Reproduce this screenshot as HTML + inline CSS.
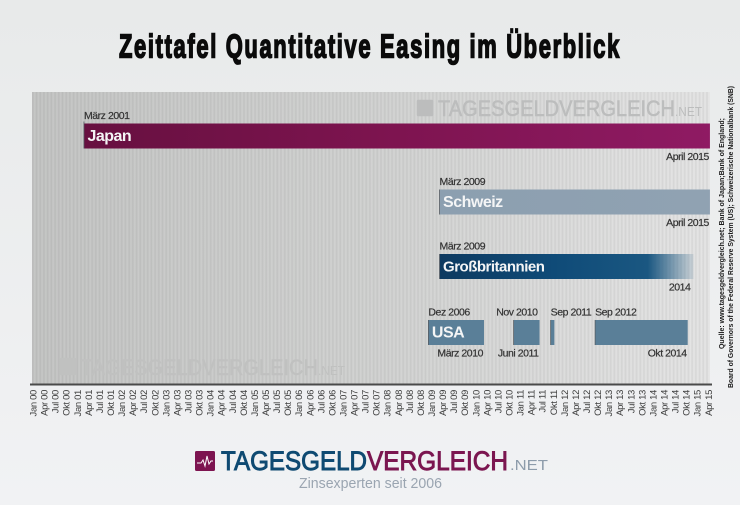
<!DOCTYPE html>
<html lang="de">
<head>
<meta charset="utf-8">
<title>Zeittafel Quantitative Easing im Überblick</title>
<style>
html,body{margin:0;padding:0;background:#eceeee}
svg{display:block;font-family:"Liberation Sans",sans-serif}
</style>
</head>
<body>
<svg id="chart" xmlns="http://www.w3.org/2000/svg" width="740" height="505" viewBox="0 0 740 505">
<defs>
<linearGradient id="pageBg" x1="0" y1="0" x2="0" y2="1"><stop offset="0" stop-color="#e8eaea"/><stop offset="1" stop-color="#f1f2f4"/></linearGradient>
<linearGradient id="plotBg" x1="0" y1="0" x2="1" y2="0"><stop offset="0" stop-color="#c6c7c6"/><stop offset=".5" stop-color="#d3d4d3"/><stop offset="1" stop-color="#e6e6e6"/></linearGradient>
<pattern id="stripes" width="3.704" height="10" patternUnits="userSpaceOnUse" x="32.1"><rect width="1.5" height="10" fill="#000" opacity=".08"/></pattern>
<filter id="soften" x="0" y="0" width="1" height="1"><feGaussianBlur stdDeviation="0.6 0"/></filter>
<linearGradient id="fillJapan" x1="0" y1="0" x2="1" y2="0"><stop offset="0" stop-color="#671040"/><stop offset=".5" stop-color="#7e1450"/><stop offset="1" stop-color="#8f1a63"/></linearGradient>
<linearGradient id="fillSchweiz" x1="0" y1="0" x2="1" y2="0"><stop offset="0" stop-color="#8c9fb0"/><stop offset="1" stop-color="#90a2b2"/></linearGradient>
<linearGradient id="fillUK" x1="0" y1="0" x2="1" y2="0"><stop offset="0" stop-color="#0e3a60"/><stop offset=".45" stop-color="#0f4b78"/><stop offset=".82" stop-color="#1a5781"/><stop offset="1" stop-color="#1a5781" stop-opacity=".12"/></linearGradient>
<linearGradient id="fillUSA" x1="0" y1="0" x2="1" y2="0"><stop offset="0" stop-color="#5a7f98"/><stop offset="1" stop-color="#5a7f98"/></linearGradient>
</defs>
<rect width="740" height="505" fill="url(#pageBg)"/>
<text x="119" y="57.5" font-size="33" font-weight="700" letter-spacing="2.5" fill="#0b0b0b" stroke="#0b0b0b" stroke-width="1.6" textLength="502" lengthAdjust="spacingAndGlyphs">Zeittafel Quantitative Easing im Überblick</text>
<g>
<rect x="32" y="92" width="678" height="292" fill="url(#plotBg)"/>
<rect x="32" y="92" width="678" height="292" fill="url(#stripes)" filter="url(#soften)"/>
</g>
<g fill="#bcbdbd" stroke="#bcbdbd" stroke-width=".5">
<rect x="417" y="100" width="16" height="16" rx="1"/>
<text x="438" y="116" font-size="22" textLength="237" lengthAdjust="spacingAndGlyphs">TAGESGELDVERGLEICH</text>
<text x="675" y="116" font-size="13" stroke-width="0" textLength="27" lengthAdjust="spacingAndGlyphs">.NET</text>
</g>
<g fill="#c0c1c0" stroke="#c0c1c0" stroke-width=".4">
<rect x="60" y="358" width="16" height="17" rx="1"/>
<text x="81" y="375" font-size="22" textLength="237" lengthAdjust="spacingAndGlyphs">TAGESGELDVERGLEICH</text>
<text x="318" y="375" font-size="13" stroke-width="0" textLength="27" lengthAdjust="spacingAndGlyphs">.NET</text>
</g>
<g id="bars"></g>
<rect x="30" y="383.5" width="682" height="2" fill="#4a4a4a"/>
<g id="ticks"></g>
<text transform="translate(724,349) rotate(-90)" font-size="7.5" font-weight="700" fill="#1c1c1c" textLength="231" lengthAdjust="spacingAndGlyphs">Quelle: www.tagesgeldvergleich.net; Bank of Japan;Bank of England;</text>
<text transform="translate(733,388) rotate(-90)" font-size="7.5" font-weight="700" fill="#1c1c1c" textLength="302" lengthAdjust="spacingAndGlyphs">Board of Governors of the Federal Reserve System (US); Schweizerische Nationalbank (SNB)</text>
<g>
<rect x="195" y="451" width="20" height="20" rx="1.5" fill="#7d1450"/>
<polyline points="197,463 201,463 203,460 205,466 207,456 209,464 211,461 213,461" fill="none" stroke="#fff" stroke-width="1"/>
<text x="221" y="470" font-size="26.5" fill="#0f4a72" stroke="#0f4a72" stroke-width=".9" textLength="146" lengthAdjust="spacingAndGlyphs">TAGESGELD</text>
<text x="367" y="470" font-size="26.5" fill="#7b1650" stroke="#7b1650" stroke-width=".9" textLength="141" lengthAdjust="spacingAndGlyphs">VERGLEICH</text>
<text x="510" y="470" font-size="15" fill="#8d9cab" textLength="38" lengthAdjust="spacingAndGlyphs">.NET</text>
<text x="299" y="488" font-size="15" fill="#9aa5b1" textLength="143" lengthAdjust="spacingAndGlyphs">Zinsexperten seit 2006</text>
</g>
</svg>
<script>
const tickLabels = ["Jan 00","Apr 00","Jul 00","Okt 00","Jan 01","Apr 01","Jul 01","Okt 01","Jan 02","Apr 02","Jul 02","Okt 02","Jan 03","Apr 03","Jul 03","Okt 03","Jan 04","Apr 04","Jul 04","Okt 04","Jan 05","Apr 05","Jul 05","Okt 05","Jan 06","Apr 06","Jul 06","Okt 06","Jan 07","Apr 07","Jul 07","Okt 07","Jan 08","Apr 08","Jul 08","Okt 08","Jan 09","Apr 09","Jul 09","Okt 09","Jan 10","Apr 10","Jul 10","Okt 10","Jan 11","Apr 11","Jul 11","Okt 11","Jan 12","Apr 12","Jul 12","Okt 12","Jan 13","Apr 13","Jul 13","Okt 13","Jan 14","Apr 14","Jul 14","Okt 14","Jan 15","Apr 15"];
const seriesRows = ["Japan","Schweiz","Großbritannien","USA","USA","USA","USA"];
const barStarts = ["2001-03","2009-03","2009-03","2008-12","2010-11","2011-09","2012-09"];
const barEnds = ["2015-04","2015-04","2014-11","2010-03","2011-06","2011-10","2014-10"];
const startLabels = ["März 2001","März 2009","März 2009","Dez 2006","Nov 2010","Sep 2011","Sep 2012"];
const endLabels = ["April 2015","April 2015","2014","März 2010","Juni 2011","","Okt 2014"];
const barNameLabels = ["Japan","Schweiz","Großbritannien","USA","","",""];
const startLabelAlign = ["start","start","start","start","end","start","start"];

const AXIS_X0 = 32.1, MONTH_W = 3.704;
const TICK_X0 = 36.5, TICK_STEP = 11.07;
function xScale(ym) {
  const parts = ym.split("-");
  return AXIS_X0 + ((+parts[0] - 2000) * 12 + (+parts[1] - 1)) * MONTH_W;
}
const rowNames = ["Japan","Schweiz","Großbritannien","USA"];
const rowTop = [123.5,189.5,254,320];
const BAR_H = 25;
const fills = {"Japan":"url(#fillJapan)","Schweiz":"url(#fillSchweiz)","Großbritannien":"url(#fillUK)","USA":"url(#fillUSA)"};
const NS = "http://www.w3.org/2000/svg";
const barsG = document.getElementById("bars");
const ticksG = document.getElementById("ticks");

function addLabel(txt, x, y, anchor, name) {
  const t = document.createElementNS(NS, "text");
  t.textContent = txt;
  t.setAttribute("x", x);
  t.setAttribute("y", y);
  t.setAttribute("text-anchor", anchor);
  t.setAttribute("font-size", "10.5");
  t.setAttribute("letter-spacing", "-0.45");
  t.setAttribute("fill", "#333");
  t.setAttribute("stroke", "#333");
  t.setAttribute("stroke-width", "0.2");
  
  
  barsG.appendChild(t);
}

seriesRows.forEach(function (row, i) {
  const top = rowTop[rowNames.indexOf(row)];
  const x1 = xScale(barStarts[i]);
  const x2 = xScale(barEnds[i]);
  const r = document.createElementNS(NS, "rect");
  r.setAttribute("x", x1);
  r.setAttribute("y", top);
  r.setAttribute("width", x2 - x1 + (row === "Großbritannien" ? 2 : 0));
  r.setAttribute("height", BAR_H);
  r.setAttribute("fill", fills[row]);
  
  
  barsG.appendChild(r);

  const edge = document.createElementNS(NS, "line");
  edge.setAttribute("x1", x1);
  edge.setAttribute("x2", x1);
  edge.setAttribute("y1", top - (row === "Japan" ? 2 : 0));
  edge.setAttribute("y2", top + BAR_H);
  edge.setAttribute("stroke", "#555c62");
  edge.setAttribute("stroke-width", "0.8");
  
  
  barsG.appendChild(edge);

  const sx = startLabelAlign[i] === "end" ? x2 - 2 : x1;
  addLabel(startLabels[i], sx, top - 4.5, startLabelAlign[i], 'start-date-label');
  if (endLabels[i]) {
    addLabel(endLabels[i], x2 - 1, top + BAR_H + 11.5, "end", 'end-date-label');
  }
  if (barNameLabels[i]) {
    const n = document.createElementNS(NS, "text");
    n.textContent = barNameLabels[i];
    n.setAttribute("x", x1 + 3.5);
    n.setAttribute("y", top + 17.5);
    n.setAttribute("font-size", row === "Großbritannien" ? "15" : "16");
    n.setAttribute("font-weight", "700");
    n.setAttribute("letter-spacing", "-0.5");
    n.setAttribute("fill", "#f4f5f6");
    
    
    barsG.appendChild(n);
  }
});

tickLabels.forEach(function (lab, i) {
  const x = TICK_X0 + i * TICK_STEP;
  const t = document.createElementNS(NS, "text");
  t.textContent = lab;
  t.setAttribute("transform", "translate(" + x + ",390) rotate(-90)");
  t.setAttribute("text-anchor", "end");
  t.setAttribute("font-size", "9.5");
  t.setAttribute("letter-spacing", "-0.35");
  t.setAttribute("fill", "#3d3d3d");
  
  
  ticksG.appendChild(t);
});
</script>
</body>
</html>
